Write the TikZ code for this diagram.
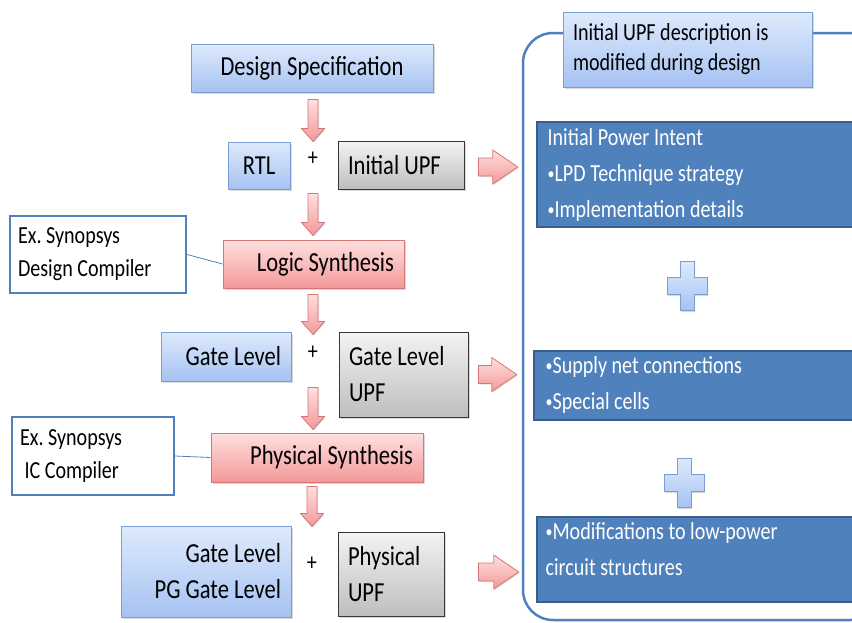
\documentclass[tikz,border=0pt]{standalone}
\usepackage{fontspec}
\setmainfont{Carlito}[FakeStretch=0.82]
\usetikzlibrary{positioning}
\usetikzlibrary{calc}
\usetikzlibrary{shadows}
\definecolor{specTop}{RGB}{222,234,252}
\definecolor{specBot}{RGB}{166,194,242}
\definecolor{specLine}{RGB}{120,158,212}
\definecolor{synTop}{RGB}{255,224,224}
\definecolor{synBot}{RGB}{243,152,152}
\definecolor{synLine}{RGB}{214,118,118}
\definecolor{upfTop}{RGB}{243,243,243}
\definecolor{upfBot}{RGB}{190,190,190}
\definecolor{upfLine}{RGB}{55,55,55}
\definecolor{frameBlue}{RGB}{79,129,189}
\definecolor{darkLine}{RGB}{56,93,138}
\newcommand{\mainsize}{\fontsize{27.5}{36}\selectfont}
\newcommand{\notesize}{\fontsize{24.5}{33}\selectfont}
\newcommand{\titlesize}{\fontsize{24.5}{30}\selectfont}
\newcommand{\intentsize}{\fontsize{24.5}{36}\selectfont}
\newcommand{\bul}{\raisebox{0.1em}{\fontsize{17}{17}\selectfont•}}
% block arrows between nodes
\newcommand{\darrow}[2]{\draw[barrow] let \p1=(#1), \p2=(#2) in
  (\x1-5pt,\y1) -- (\x1+5pt,\y1) -- (\x1+5pt,\y2+13pt) -- (\x1+11.5pt,\y2+13pt) -- (\x1,\y2)
  -- (\x1-11.5pt,\y2+13pt) -- (\x1-5pt,\y2+13pt) -- cycle;}
\newcommand{\rarrow}[2]{\draw[barrow] let \p1=(#1), \p2=(#2) in
  (\x1,\y1+9pt) -- (\x2-25pt,\y1+9pt) -- (\x2-25pt,\y1+17pt) -- (\x2,\y1)
  -- (\x2-25pt,\y1-17pt) -- (\x2-25pt,\y1-9pt) -- (\x1,\y1-9pt) -- cycle;}
\newcommand{\bigplus}[1]{\draw[plusbox] (#1) ++(-7,-24.5) -- ++(14,0) -- ++(0,16) -- ++(13,0)
  -- ++(0,17) -- ++(-13,0) -- ++(0,16) -- ++(-14,0) -- ++(0,-16) -- ++(-13,0) -- ++(0,-17)
  -- ++(13,0) -- cycle;}

\begin{document}
\begin{tikzpicture}[
        x=1pt,y=-1pt,
        every node/.style={font=\mainsize,inner xsep=10pt,inner ysep=0pt},
        box/.style={rectangle,line width=1pt,minimum height=48pt,
                    drop shadow={shadow xshift=1.5pt,shadow yshift=-1.5pt,opacity=.3}},
        spec/.style={box,draw=specLine,top color=specTop,bottom color=specBot},
        syn/.style={box,draw=synLine,top color=synTop,bottom color=synBot},
        upf/.style={box,draw=upfLine,top color=upfTop,bottom color=upfBot},
        toolbox/.style={rectangle,draw=frameBlue,line width=2.2pt,fill=white,
                        font=\notesize,align=flush left,inner xsep=8pt},
        intent/.style={rectangle,draw=darkLine,line width=1.2pt,fill=frameBlue,
                       drop shadow={shadow xshift=1pt,shadow yshift=-1pt,opacity=.3}},
        intenttext/.style={font=\intentsize,text=white,align=flush left,inner sep=0pt},
        barrow/.style={draw=synLine,line width=0.8pt,top color=synTop,bottom color=synBot,
                       drop shadow={shadow xshift=1pt,shadow yshift=-1pt,opacity=.25}},
        plusbox/.style={draw=specLine,line width=0.8pt,top color=specTop,bottom color=specBot,
                        drop shadow={shadow xshift=1pt,shadow yshift=-1.5pt,opacity=.3}},
        flowframe/.style={rectangle,draw=frameBlue,line width=2.5pt,rounded corners=30pt},
        conn/.style={draw=frameBlue,line width=0.8pt}
      ]
      \useasboundingbox (0,0) rectangle (852,622);
      \clip (0,0) rectangle (852,622);

      % flow on the left
      \node (spec) [spec,text width=222pt,align=flush center] at (312,68) {Design Specification};
      \node (rtl) [spec,text width=42pt,align=flush center,minimum height=47pt] at (259,165.5) {RTL};
      \node (plus1) [inner sep=0pt,font=\notesize] at (313,159) {+};
      \node (iupf) [upf,text width=106pt,align=flush left] at (401,165) {Initial UPF};
      \node (logic) [syn,text width=161pt,align=flush right] at (313.5,264) {Logic Synthesis};
      \node (tool1) [toolbox,text width=160pt,minimum height=77pt] at (98,254.5) {Ex.\ Synopsys\\Design Compiler};
      \node (gate) [spec,text width=110pt,align=flush right,minimum height=49pt] at (226,356.5) {Gate Level};
      \node (plus2) [inner sep=0pt,font=\notesize] at (313,353) {+};
      \node (gupf) [upf,text width=109pt,align=flush left,minimum height=85pt] at (403.5,374.5) {Gate Level\\UPF};
      \node (phys) [syn,text width=192pt,align=flush right,minimum height=49pt] at (317,457.5) {Physical Synthesis};
      \node (tool2) [toolbox,text width=146pt,minimum height=78pt] at (93,456) {Ex.\ Synopsys\\\ IC Compiler};
      \node (pg) [spec,text width=150pt,align=flush right,minimum height=91pt] at (206,571.5) {Gate Level\\PG Gate Level};
      \node (plus3) [inner sep=0pt,font=\notesize] at (312,564) {+};
      \node (pupf) [upf,text width=86pt,align=flush left,minimum height=84pt] at (391,574) {Physical\\UPF};

      \draw[conn] (tool1.east) -- (logic.west);
      \draw[conn] (tool2.east) -- (phys.west);

      \darrow{$(spec.south -| plus1)+(0,7)$}{rtl.north -| plus1}
      \darrow{$(rtl.south -| plus1)+(0,4)$}{$(logic.north -| plus1)+(0,-4)$}
      \darrow{$(logic.south -| plus2)+(0,6)$}{$(gate.north -| plus2)+(0,3)$}
      \darrow{$(gate.south -| plus2)+(0,6)$}{$(phys.north -| plus2)+(0,-3)$}
      \darrow{$(phys.south -| plus3)+(0,4)$}{$(pg.north -| plus3)+(0,1)$}

      % UPF side
      \node (frame) [flowframe,minimum width=357pt,minimum height=587pt] at (701.5,326.5) {};
      \node (note) [spec,font=\titlesize,text width=229pt,align=flush left,minimum height=75pt] at (687.5,49.5)
        {Initial UPF description is\\modified during design};

      \node (intent1) [intent,minimum width=333pt,minimum height=105pt] at (703.5,174.5) {};
      \node (intent1txt) [intenttext,below right=7pt and 11pt of intent1.north west]
        {Initial Power Intent\\\bul LPD Technique strategy\\\bul Implementation details};
      \node (intent2) [intent,minimum width=336pt,minimum height=69pt] at (702,385.5) {};
      \node (intent2txt) [intenttext,below right=6pt and 12pt of intent2.north west]
        {\bul Supply net connections\\\bul Special cells};
      \node (intent3) [intent,minimum width=333pt,minimum height=85pt] at (703.5,559.5) {};
      \node (intent3txt) [intenttext,below right=6pt and 9pt of intent3.north west]
        {\bul Modifications to low-power\\circuit structures};

      \bigplus{687,286}
      \bigplus{684,483}

      \rarrow{$(iupf.east)+(14,2)$}{$(frame.west)+(-4,0)$}
      \rarrow{$(gupf.east)+(10,0)$}{$(frame.west)+(-5,0)$}
      \rarrow{$(pupf.east)+(34,-2)$}{$(frame.west)+(-3,0)$}
\end{tikzpicture}
\end{document}
